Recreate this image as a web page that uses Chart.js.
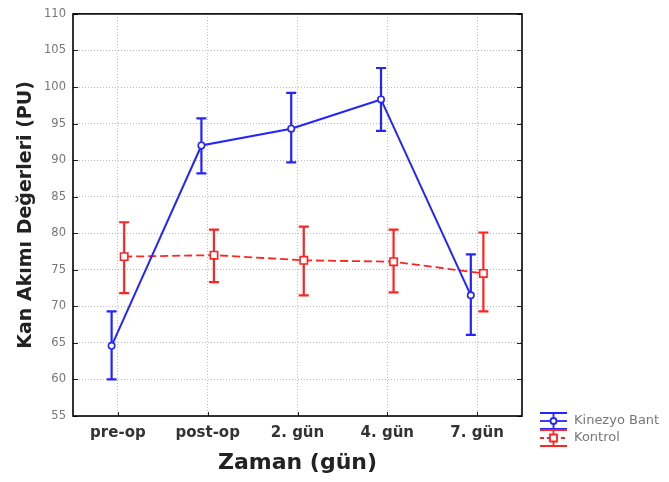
<!DOCTYPE html>
<html>
<head>
<meta charset="utf-8">
<script src="https://cdn.jsdelivr.net/npm/chart.js@4.4.0/dist/chart.umd.min.js"></script>
<style>
  html, body { margin: 0; padding: 0; background: #fff; }
</style>
</head>
<body>
<canvas id="chart" width="669" height="482"></canvas>
<script>
// categories and tick labels
const categories = ['pre-op', 'post-op', '2. gün', '4. gün', '7. gün'];
const yTicks = [55, 60, 65, 70, 75, 80, 85, 90, 95, 100, 105, 110];

// Kinezyo Bant: mean with upper / lower error limits
const bantMean  = [64.6, 92.0, 94.3, 98.3, 71.5];
const bantUpper = [69.3, 95.7, 99.2, 102.6, 77.1];
const bantLower = [60.0, 88.2, 89.7, 94.0, 66.1];

// Kontrol
const kontrolMean  = [76.8, 77.0, 76.3, 76.1, 74.5];
const kontrolUpper = [81.5, 80.5, 80.9, 80.5, 80.1];
const kontrolLower = [71.8, 73.3, 71.5, 71.9, 69.3];

const BLUE = '#2424ff';
const RED = '#ff2424';

// small horizontal shift so the two groups do not overlap
const shift = 0.07;

function toPoints(values, dx) {
    return values.map((v, i) => ({ x: i + dx, y: v }));
}

// vertical error bars with caps
const errorBars = {
    id: 'errorBars',
    beforeDatasetsDraw(chart) {
        const { ctx, scales: { x, y } } = chart;
        chart.data.datasets.forEach((ds, i) => {
            ctx.save();
            ctx.strokeStyle = ds.borderColor;
            ctx.lineWidth = 2.2;
            ds.data.forEach((pt, j) => {
                const px = x.getPixelForValue(pt.x);
                const top = y.getPixelForValue(ds.errUpper[j]);
                const bot = y.getPixelForValue(ds.errLower[j]);
                ctx.beginPath();
                ctx.moveTo(px, top); ctx.lineTo(px, bot);
                ctx.moveTo(px - 5, top); ctx.lineTo(px + 5, top);
                ctx.moveTo(px - 5, bot); ctx.lineTo(px + 5, bot);
                ctx.stroke();
            });
            ctx.restore();
        });
    }
};

// frame, inner tick marks and the legend in the bottom right corner
const frameAndLegend = {
    id: 'frameAndLegend',
    afterDraw(chart) {
        const { ctx, chartArea: a, scales: { x, y } } = chart;
        ctx.save();
        ctx.strokeStyle = '#222';
        ctx.lineWidth = 1;
        ctx.beginPath();
        yTicks.forEach(v => {
            const py = Math.round(y.getPixelForValue(v)) + 0.5;
            ctx.moveTo(a.left, py); ctx.lineTo(a.left + 5, py);
            ctx.moveTo(a.right, py); ctx.lineTo(a.right - 5, py);
        });
        categories.forEach((c, i) => {
            const px = Math.round(x.getPixelForValue(i)) + 0.5;
            ctx.moveTo(px, a.bottom); ctx.lineTo(px, a.bottom - 4);
        });
        ctx.stroke();

        ctx.lineWidth = 1.6;
        ctx.strokeStyle = '#000';
        ctx.strokeRect(a.left, a.top, a.right - a.left, a.bottom - a.top);

        // legend
        const lx = 540, lw = 27;
        const rows = [
            { ds: chart.data.datasets[0], y: 421 },
            { ds: chart.data.datasets[1], y: 438 }
        ];
        rows.forEach(r => {
            ctx.strokeStyle = r.ds.borderColor;
            ctx.lineWidth = 1.8;
            ctx.setLineDash([]);
            ctx.beginPath();
            ctx.moveTo(lx, r.y - 8); ctx.lineTo(lx + lw, r.y - 8);
            ctx.moveTo(lx, r.y + 8); ctx.lineTo(lx + lw, r.y + 8);
            ctx.moveTo(lx + lw / 2, r.y - 8); ctx.lineTo(lx + lw / 2, r.y + 8);
            ctx.stroke();
            ctx.setLineDash(r.ds.borderDash ? [4, 3] : []);
            ctx.beginPath();
            ctx.moveTo(lx, r.y); ctx.lineTo(lx + lw, r.y);
            ctx.stroke();
            ctx.setLineDash([]);
            ctx.fillStyle = '#fff';
            ctx.beginPath();
            if (r.ds.pointStyle === 'rect') {
                ctx.rect(lx + lw / 2 - 3.5, r.y - 3.5, 7, 7);
            } else {
                ctx.arc(lx + lw / 2, r.y, 3, 0, Math.PI * 2);
            }
            ctx.fill();
            ctx.stroke();
            ctx.fillStyle = '#777';
            ctx.font = '13px "DejaVu Sans"';
            ctx.textBaseline = 'middle';
            ctx.fillText(r.ds.label, lx + lw + 7, r.y);
        });
        ctx.restore();
    }
};

const ctx = document.getElementById('chart').getContext('2d');

new Chart(ctx, {
    type: 'line',
    data: {
        datasets: [{
            label: 'Kinezyo Bant',
            data: toPoints(bantMean, -shift),
            errUpper: bantUpper,
            errLower: bantLower,
            borderColor: BLUE,
            backgroundColor: '#fff',
            borderWidth: 2,
            pointStyle: 'circle',
            pointRadius: 3.2,
            pointBorderWidth: 1.6,
            pointBackgroundColor: '#fff',
            tension: 0
        }, {
            label: 'Kontrol',
            data: toPoints(kontrolMean, shift),
            errUpper: kontrolUpper,
            errLower: kontrolLower,
            borderColor: RED,
            backgroundColor: '#fff',
            borderWidth: 1.8,
            borderDash: [8, 4],
            pointStyle: 'rect',
            pointRadius: 5.2,
            pointBorderWidth: 1.6,
            pointBackgroundColor: '#fff',
            tension: 0
        }]
    },
    options: {
        responsive: false,
        animation: false,
        devicePixelRatio: 1,
        layout: { padding: { left: 0, top: 12, right: 147, bottom: 0 } },
        plugins: {
            legend: { display: false },
            tooltip: { enabled: false }
        },
        scales: {
            x: {
                type: 'linear',
                min: -0.5,
                max: 4.5,
                afterBuildTicks: scale => {
                    scale.ticks = categories.map((c, i) => ({ value: i }));
                },
                afterFit: scale => { scale.height = 66; },
                ticks: {
                    callback: v => categories[v],
                    color: '#333',
                    padding: 8,
                    maxRotation: 0,
                    font: { family: 'DejaVu Sans', size: 15, weight: 'bold' }
                },
                grid: { color: '#b8b8b8', lineWidth: 1, drawTicks: false },
                border: { display: false, dash: [1, 2] },
                title: {
                    display: true,
                    text: 'Zaman (gün)',
                    color: '#222',
                    padding: { top: 0, bottom: 6 },
                    font: { family: 'DejaVu Sans', size: 22, weight: 'bold' }
                }
            },
            y: {
                min: 55,
                max: 110,
                afterBuildTicks: scale => {
                    scale.ticks = yTicks.map(v => ({ value: v }));
                },
                afterFit: scale => { scale.width = 73; },
                ticks: {
                    color: '#777',
                    padding: 7,
                    font: { family: 'DejaVu Sans', size: 11.5 }
                },
                grid: { color: '#b8b8b8', lineWidth: 1, drawTicks: false },
                border: { display: false, dash: [1, 2] },
                title: {
                    display: true,
                    text: 'Kan Akımı Değerleri (PU)',
                    color: '#222',
                    padding: { top: 15, bottom: 0 },
                    font: { family: 'DejaVu Sans', size: 19, weight: 'bold' }
                }
            }
        }
    },
    plugins: [errorBars, frameAndLegend]
});
</script>
</body>
</html>
